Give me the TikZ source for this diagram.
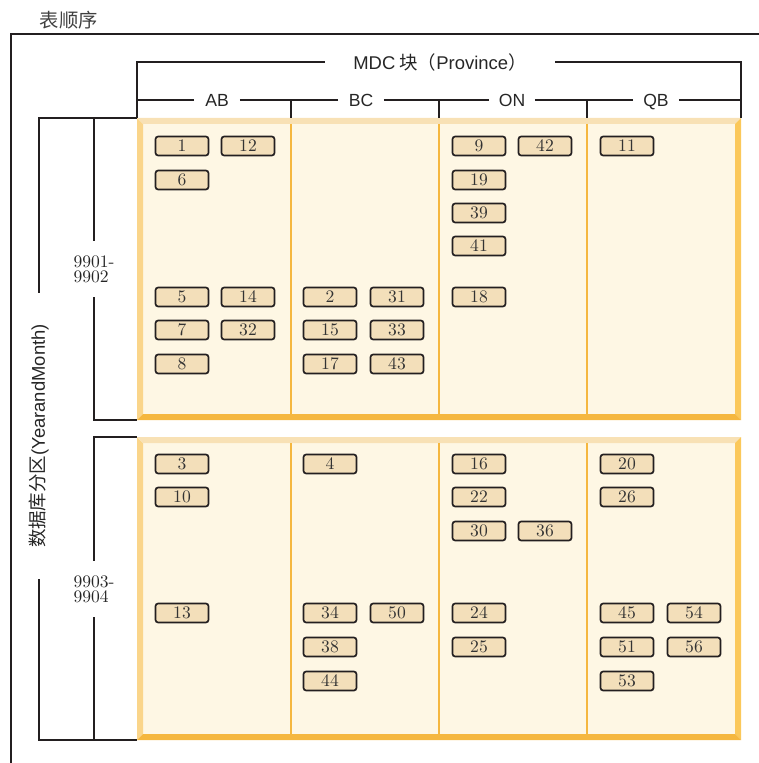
\documentclass[tikz,border=0pt]{standalone}
\usepackage{fontspec}
\newfontfamily\cjk{Noto Sans CJK SC}
\newfontfamily\arial{Liberation Sans}
\usepackage{xcolor}
\definecolor{blockin}{HTML}{FEF7E4}
\definecolor{edgeL}{HTML}{FAD58A}
\definecolor{edgeT}{HTML}{F8E1B5}
\definecolor{edgeR}{HTML}{FBC85A}
\definecolor{edgeB}{HTML}{F5B73F}
\definecolor{cellfill}{HTML}{F3DFBA}
\definecolor{ink}{HTML}{231F20}

\begin{document}
\begin{tikzpicture}[x=0.02cm, y=-0.02cm, line width=1pt, draw=ink,
  cell/.style = {draw=ink, fill=cellfill, rounded corners=1.5pt, line width=0.95pt, minimum width=1.06cm, minimum height=0.38cm, inner sep=0pt, text=black!80, font=\fontsize{10}{12}\selectfont},
  prov/.style = {minimum width=0.88cm, inner sep=0pt, text height=7.2pt, text depth=0pt, text=black!85, font=\arial\fontsize{10}{12}\selectfont},
  monthspan/.style = {align=left, minimum height=1.1cm, inner sep=0pt, text=black!85, font=\fontsize{10}{8.5}\selectfont},
  divider/.style = {draw=edgeB, line width=1.2pt}]
  \useasboundingbox (0,0) rectangle (759,763);

  % the two database partitions
  \foreach \t/\b in {118/420, 437/740} {
    \fill[blockin] (137,\t) rectangle (741,\b);
    \fill[edgeL] (137,\t) -- (143,\t+6) -- (143,\b-6) -- (137,\b) -- cycle;
    \fill[edgeT] (137,\t) -- (741,\t) -- (735,\t+6) -- (143,\t+6) -- cycle;
    \fill[edgeR] (741,\t) -- (741,\b) -- (735,\b-6) -- (735,\t+6) -- cycle;
    \fill[edgeB] (137,\b) -- (741,\b) -- (735,\b-6) -- (143,\b-6) -- cycle;
    \foreach \x in {291,439,587} \draw[divider] (\x,\t+6) -- (\x,\b-6);
  }

  \node[anchor=west, inner sep=0pt, text=black!75, font=\cjk\fontsize{11}{13}\selectfont] (title) at (39,20) {表顺序};
  \coordinate (fTL) at (11,34);
  \coordinate (fTR) at (759,34);
  \coordinate (fBL) at (11,763);
  \draw (fTR) -- (fTL) -- (fBL);

  \coordinate (nw1) at (137,118);
  \coordinate (ne1) at (741,118);
  \coordinate (sw1) at (137,420);
  \coordinate (nw2) at (137,437);
  \coordinate (sw2) at (137,740);
  \coordinate (d1) at (291,118);
  \coordinate (d2) at (439,118);
  \coordinate (d3) at (587,118);

  % MDC block dimension
  \node[minimum width=4.58cm, inner sep=0pt, text=black!85, font=\cjk\fontsize{10.5}{12}\selectfont] (mdc) at (440,62) {{\arial MDC} 块（{\arial Province}）};
  \draw (mdc.west) -| (nw1);
  \draw (mdc.east) -| (ne1);
  \node[prov] (ab) at (217,100) {AB};
  \node[prov] (bc) at (361,100) {BC};
  \node[prov] (on) at (512,100) {ON};
  \node[prov] (qb) at (656,100) {QB};
  \draw (ab.west) -| (nw1);
  \draw (ab.east) -| (d1);
  \draw (bc.west) -| (d1);
  \draw (bc.east) -| (d2);
  \draw (on.west) -| (d2);
  \draw (on.east) -| (d3);
  \draw (qb.west) -| (d3);
  \draw (qb.east) -| (ne1);

  % partitions
  \node[rotate=90, minimum width=5.7cm, inner sep=0pt, text=black!85, font=\cjk\fontsize{10.5}{12}\selectfont] (part) at (39,436) {数据库分区{\arial (YearandMonth)}};
  \draw (part.east) |- (nw1);
  \draw (part.west) |- (sw2);
  \node[monthspan] (r1) at (94,269) {9901-\\9902};
  \draw (r1.north) |- (nw1);
  \draw (r1.south) |- (sw1);
  \node[monthspan] (r2) at (94,589) {9903-\\9904};
  \draw (r2.north) |- (nw2);
  \draw (r2.south) |- (sw2);

  % cells, 9901-9902
  \node[cell] (c1) at (182,146) {1};
  \node[cell] (c12) at (248,146) {12};
  \node[cell] (c6) at (182,180) {6};
  \node[cell] (c5) at (182,297) {5};
  \node[cell] (c14) at (248,297) {14};
  \node[cell] (c7) at (182,330) {7};
  \node[cell] (c32) at (248,330) {32};
  \node[cell] (c8) at (182,364) {8};
  \node[cell] (c2) at (330,297) {2};
  \node[cell] (c31) at (397,297) {31};
  \node[cell] (c15) at (330,330) {15};
  \node[cell] (c33) at (397,330) {33};
  \node[cell] (c17) at (330,364) {17};
  \node[cell] (c43) at (397,364) {43};
  \node[cell] (c9) at (479,146) {9};
  \node[cell] (c42) at (545,146) {42};
  \node[cell] (c19) at (479,180) {19};
  \node[cell] (c39) at (479,213) {39};
  \node[cell] (c41) at (479,246) {41};
  \node[cell] (c18) at (479,297) {18};
  \node[cell] (c11) at (627,146) {11};

  % cells, 9903-9904
  \node[cell] (c3) at (182,464) {3};
  \node[cell] (c10) at (182,497) {10};
  \node[cell] (c13) at (182,613) {13};
  \node[cell] (c4) at (330,464) {4};
  \node[cell] (c34) at (330,613) {34};
  \node[cell] (c50) at (397,613) {50};
  \node[cell] (c38) at (330,647) {38};
  \node[cell] (c44) at (330,681) {44};
  \node[cell] (c16) at (479,464) {16};
  \node[cell] (c22) at (479,497) {22};
  \node[cell] (c30) at (479,531) {30};
  \node[cell] (c36) at (545,531) {36};
  \node[cell] (c24) at (479,613) {24};
  \node[cell] (c25) at (479,647) {25};
  \node[cell] (c20) at (627,464) {20};
  \node[cell] (c26) at (627,497) {26};
  \node[cell] (c45) at (627,613) {45};
  \node[cell] (c54) at (694,613) {54};
  \node[cell] (c51) at (627,647) {51};
  \node[cell] (c56) at (694,647) {56};
  \node[cell] (c53) at (627,681) {53};
\end{tikzpicture}
\end{document}
